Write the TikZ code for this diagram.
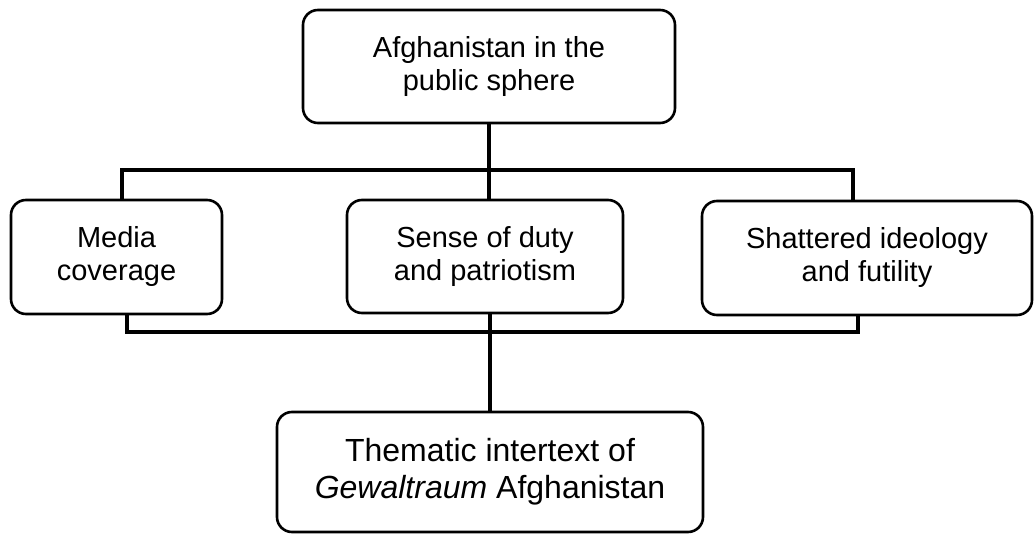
\documentclass[tikz,border=0pt]{standalone}
\usepackage{fontspec}
\setmainfont{Liberation Sans}
\begin{document}
\begin{tikzpicture}[x=0.5pt, y=-0.5pt]
  \tikzstyle{box}=[draw, rounded corners=7.5pt, line width=1.3pt, align=center, inner sep=0pt, font=\fontsize{14.5}{16.5}\selectfont]
  \tikzstyle{link}=[line width=2pt]

  \useasboundingbox (0,0) rectangle (1034,534);

  \node[box, minimum width=186pt, minimum height=56.5pt] (public)    at (489,   66.5) {Afghanistan in the\\public sphere};
  \node[box, minimum width=105.5pt, minimum height=57pt] (media)     at (116.5, 257)  {Media\\coverage};
  \node[box, minimum width=138pt, minimum height=56.5pt] (duty)      at (485,   256.5) {Sense of duty\\and patriotism};
  \node[box, minimum width=165pt, minimum height=57pt]   (shattered) at (867,   258)  {Shattered ideology\\and futility};
  \node[box, minimum width=213pt, minimum height=60pt, font=\fontsize{16}{18.5}\selectfont]
                                                         (thematic)  at (490,   472)  {Thematic intertext of\\\textit{Gewaltraum} Afghanistan};

  \coordinate (topleft)  at (122, 170);
  \coordinate (topright) at (853, 170);
  \coordinate (lowleft)  at (127, 332);
  \coordinate (lowright) at (858, 332);

  \draw[link] (public.south) -- (public.south |- duty.north);
  \draw[link] (topleft |- media.north) -- (topleft) -- (topright) -- (topright |- shattered.north);
  \draw[link] (lowleft |- media.south) -- (lowleft) -- (lowright) -- (lowright |- shattered.south);
  \draw[link] (thematic.north |- duty.south) -- (thematic.north);
\end{tikzpicture}
\end{document}
